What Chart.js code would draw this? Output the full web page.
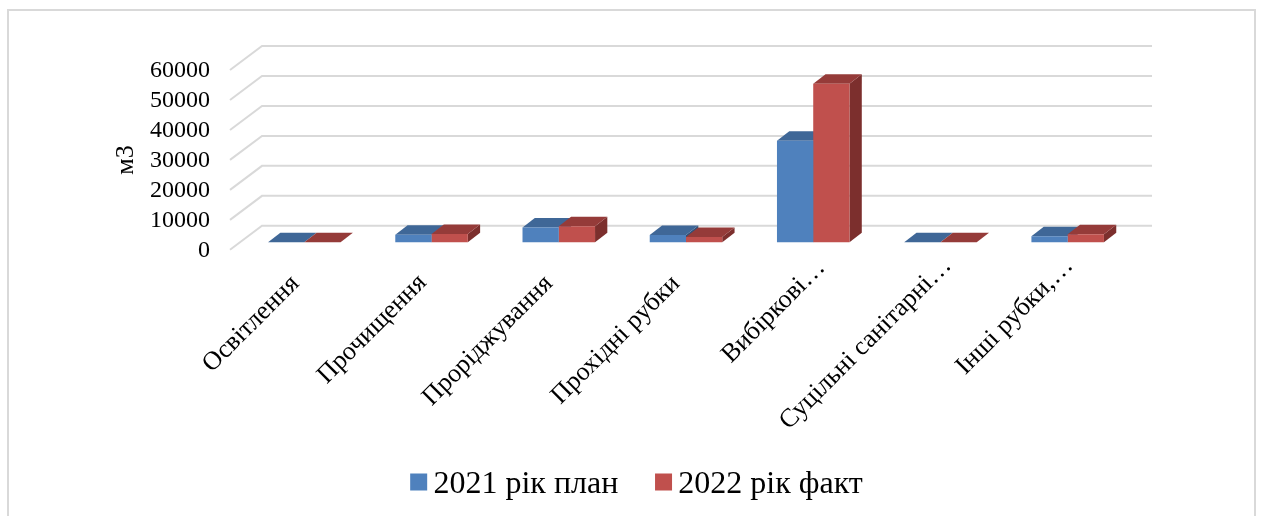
<!DOCTYPE html>
<html lang="uk">
<head>
<meta charset="utf-8">
<title>Обсяги рубок</title>
<script src="https://cdn.jsdelivr.net/npm/chart.js@4"></script>
<style>
  html, body { margin: 0; padding: 0; background: #fff; overflow: hidden; }
  canvas { display: block; }
</style>
</head>
<body>
<canvas id="chart" width="1261" height="516"></canvas>
<script>
const categories = ['Освітлення', 'Прочищення', 'Проріджування', 'Прохідні рубки', 'Вибіркові…', 'Суцільні санітарні…', 'Інші рубки,…'];
const plan2021 = [0, 2500, 4950, 2450, 33900, 0, 2000];
const fact2022 = [0, 2800, 5400, 1800, 52900, 0, 2700];
const seriesNames = ['2021 рік план', '2022 рік факт'];
const axisTicks = [0, 10000, 20000, 30000, 40000, 50000, 60000];
const axisTitle = 'м3';

const SERIF = '"Liberation Serif", "Times New Roman", serif';
const colors = {
  front: ['#4F81BD', '#C0504D'],
  top: ['#3F6797', '#953B39'],
  side: ['#325279', '#7C2F2D'],
  grid: '#D9D9D9',
  frame: '#D9D9D9'
};

// Projection of the 3D box: floor and wall depth, and depth of a single column.
const WALL = { dx: 32, dy: 24 };
const BAR = { dx: 12.3, dy: 9.5 };
// Columns stand part way into the floor, which equals this many units on the value axis.
const BAR_PLANE_SHIFT = 2500;
const WALL_RIGHT = 1152;
// Offset of each rotated label from its category position.
const labelSlide = [[-9, -1], [-9, -2], [-10, -1], [-10, -1], [8, -17], [7, -19], [1.5, -19]];

const frameAndWall = {
  id: 'frameAndWall',
  beforeDraw(chart) {
    const { ctx, scales } = chart;
    ctx.save();
    ctx.strokeStyle = colors.frame;
    ctx.lineWidth = 2;
    ctx.beginPath();
    ctx.moveTo(8, 530);
    ctx.lineTo(8, 10);
    ctx.lineTo(1255, 10);
    ctx.lineTo(1255, 530);
    ctx.stroke();

    ctx.strokeStyle = colors.grid;
    ctx.lineWidth = 2;
    const left = scales.y.left + scales.y.width - 10.7;
    scales.y.ticks.forEach(t => {
      const y = scales.y.getPixelForValue(t.value);
      ctx.beginPath();
      ctx.moveTo(left, y);
      ctx.lineTo(left + WALL.dx, y - WALL.dy);
      ctx.lineTo(WALL_RIGHT, y - WALL.dy);
      ctx.stroke();
    });
    ctx.restore();

    // Move the rotated category labels once their positions are known.
    const items = scales.x.getLabelItems();
    if (!items._slid) {
      items.forEach((item, i) => {
        item.options.translation[0] += labelSlide[i][0];
        item.options.translation[1] += labelSlide[i][1];
      });
      items._slid = true;
    }
  }
};

// Top and side faces of every column; the library then paints the front faces over them.
const columnFaces = {
  id: 'columnFaces',
  beforeDatasetsDraw(chart) {
    const { ctx } = chart;
    ctx.save();
    chart.data.datasets.forEach((ds, s) => {
      chart.getDatasetMeta(s).data.forEach(bar => {
        const { x, y, base, width } = bar.getProps(['x', 'y', 'base', 'width'], true);
        const l = x - width / 2, r = x + width / 2;
        ctx.fillStyle = colors.side[s];
        ctx.beginPath();
        ctx.moveTo(r, base);
        ctx.lineTo(r + BAR.dx, base - BAR.dy);
        ctx.lineTo(r + BAR.dx, y - BAR.dy);
        ctx.lineTo(r, y);
        ctx.closePath();
        ctx.fill();
        ctx.fillStyle = colors.top[s];
        ctx.beginPath();
        ctx.moveTo(l, y);
        ctx.lineTo(l + BAR.dx, y - BAR.dy);
        ctx.lineTo(r + BAR.dx, y - BAR.dy);
        ctx.lineTo(r, y);
        ctx.closePath();
        ctx.fill();
      });
    });
    ctx.restore();
  }
};

// Legend swatches are painted here as squares so the text can sit tight beside them.
const squareSwatches = {
  id: 'squareSwatches',
  afterDraw(chart) {
    const { ctx, legend } = chart;
    ctx.save();
    legend.legendHitBoxes.forEach((hit, i) => {
      ctx.fillStyle = colors.front[i];
      ctx.fillRect(hit.left, hit.top + (hit.height - 17) / 2 - 2.5, 17, 17);
    });
    ctx.restore();
  }
};

new Chart(document.getElementById('chart'), {
  type: 'bar',
  data: {
    labels: categories,
    datasets: [
      { label: seriesNames[0], data: plan2021, backgroundColor: colors.front[0], yAxisID: 'yBars', categoryPercentage: 0.57, barPercentage: 1 },
      { label: seriesNames[1], data: fact2022, backgroundColor: colors.front[1], yAxisID: 'yBars', categoryPercentage: 0.57, barPercentage: 1 }
    ]
  },
  plugins: [frameAndWall, columnFaces, squareSwatches],
  options: {
    responsive: false,
    animation: false,
    layout: { padding: { left: 12, right: 0, top: 70, bottom: 5.5 } },
    plugins: {
      tooltip: { enabled: false },
      legend: {
        position: 'bottom',
        labels: {
          boxWidth: 7.3,
          boxHeight: 17,
          padding: 36.7,
          color: '#000',
          font: { family: SERIF, size: 32 },
          generateLabels: chart => Chart.defaults.plugins.legend.labels.generateLabels(chart)
            .map(item => ({ ...item, fillStyle: 'transparent', strokeStyle: 'transparent', lineWidth: 0 }))
        }
      }
    },
    scales: {
      x: {
        position: 'bottom',
        grid: { display: false, drawTicks: false },
        border: { display: false },
        afterFit(scale) { scale.height = 182; },
        ticks: {
          autoSkip: false,
          minRotation: 45,
          maxRotation: 45,
          padding: 20,
          color: '#000',
          font: { family: SERIF, size: 26 }
        }
      },
      y: {
        position: 'left',
        min: 0,
        max: 60000,
        afterBuildTicks(scale) { scale.ticks = axisTicks.map(value => ({ value })); },
        afterFit(scale) { scale.width = 228.7; },
        grid: { display: false, drawTicks: false },
        border: { display: false },
        title: {
          display: true,
          text: axisTitle,
          color: '#000',
          padding: { top: 99, bottom: 0 },
          font: { family: SERIF, size: 26 }
        },
        ticks: {
          autoSkip: false,
          padding: 30.7,
          labelOffset: 1,
          color: '#000',
          font: { family: SERIF, size: 24 },
          callback: v => String(v)
        }
      },
      yBars: {
        position: 'right',
        min: -BAR_PLANE_SHIFT,
        max: 60000 - BAR_PLANE_SHIFT,
        afterFit(scale) { scale.width = 129.7; },
        grid: { display: false, drawTicks: false },
        border: { display: false },
        ticks: { display: false }
      }
    }
  }
});
</script>
</body>
</html>
